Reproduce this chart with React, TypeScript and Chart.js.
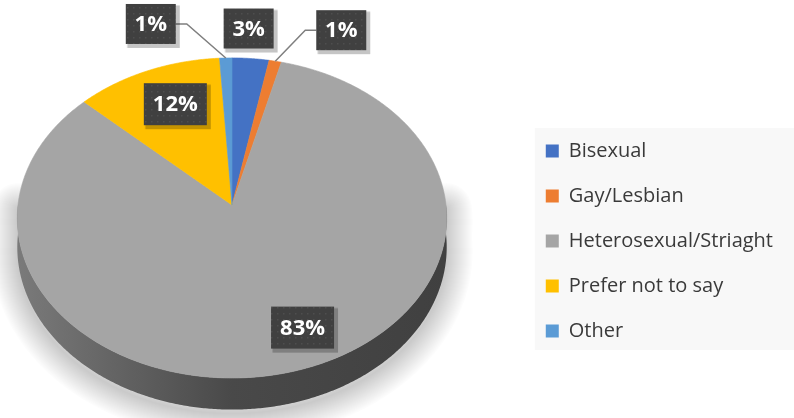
import React, { useEffect, useRef } from 'react';
import { Chart, registerables } from 'chart.js';

Chart.register(...registerables);

const categories = ['Bisexual', 'Gay/Lesbian', 'Heterosexual/Striaght', 'Prefer not to say', 'Other'];
const values = [3, 1, 83, 12, 1];
const valueLabels = ['3%', '1%', '83%', '12%', '1%'];
const colors = ['#4472C4', '#ED7D31', '#A5A5A5', '#FFC000', '#5B9BD5'];

// 3D projection geometry (style/layout, not data)
const PIE = { cx: 232, cy: 205, rx: 214, ry: 159, k: 0.081, depth: 29 };
const LABEL_PLACE = [
  { t: 1, dx: -2, dy: -30, leader: false },
  { t: 1, dx: 66, dy: -31, leader: true },
  { t: 0.75, dx: 23, dy: 1, leader: false },
  { t: 0.7, dx: 4, dy: -5, leader: false },
  { t: 1, dx: -75, dy: -34, leader: true },
];

function proj(a: number, t: number, down = 0): [number, number] {
  const x = t * Math.cos(a);
  const z = t * Math.sin(a);
  const f = 1 / (1 - PIE.k * z);
  return [PIE.cx + PIE.rx * x * f, PIE.cy + (PIE.ry * z + down) * f];
}

function shade(hex: string, f: number): string {
  const n = parseInt(hex.slice(1), 16);
  const r = Math.round(((n >> 16) & 255) * f);
  const g = Math.round(((n >> 8) & 255) * f);
  const b = Math.round((n & 255) * f);
  return `rgb(${r},${g},${b})`;
}

function arcPoints(s: number, e: number, t: number, down = 0): [number, number][] {
  const n = Math.max(2, Math.ceil((e - s) / (Math.PI / 360)));
  const pts: [number, number][] = [];
  for (let i = 0; i <= n; i++) pts.push(proj(s + ((e - s) * i) / n, t, down));
  return pts;
}

let dotPattern: CanvasPattern | null = null;
function getPattern(ctx: CanvasRenderingContext2D) {
  if (dotPattern) return dotPattern;
  const c = document.createElement('canvas');
  c.width = 6; c.height = 6;
  const p = c.getContext('2d')!;
  p.fillStyle = '#404040';
  p.fillRect(0, 0, 6, 6);
  p.fillStyle = '#4e4e4e';
  p.fillRect(1, 1, 1.5, 1.5);
  dotPattern = ctx.createPattern(c, 'repeat');
  return dotPattern;
}

function lowerSilhouette(ctx: CanvasRenderingContext2D, dy: number) {
  const D = PIE.depth;
  ctx.beginPath();
  const bottomPts = arcPoints(0, Math.PI, 1, D);
  const topPts = arcPoints(0, Math.PI, 1, 0).reverse();
  bottomPts.forEach((p, i) => (i ? ctx.lineTo(p[0], p[1] + dy) : ctx.moveTo(p[0], p[1] + dy)));
  topPts.forEach((p) => ctx.lineTo(p[0], p[1] + dy));
  ctx.closePath();
}

const pie3dPlugin = {
  id: 'pie3d',
  beforeDraw(chart: any) {
    const ctx: CanvasRenderingContext2D = chart.ctx;
    const hb = chart.legend && chart.legend.legendHitBoxes;
    if (hb && hb.length) {
      const first = hb[0];
      const last = hb[hb.length - 1];
      const left = first.left - 11;
      const top = first.top - 13;
      const bottom = last.top + last.height + 9;
      ctx.save();
      ctx.fillStyle = '#f8f8f8';
      ctx.fillRect(left, top, chart.width - left, bottom - top);
      ctx.restore();
    }
  },
  beforeDatasetsDraw(chart: any) {
    const ctx: CanvasRenderingContext2D = chart.ctx;
    const meta = chart.getDatasetMeta(0);
    const D = PIE.depth;
    ctx.save();
    // soft glow around the base: layered strokes
    ctx.lineJoin = 'round';
    ctx.strokeStyle = 'rgba(0,0,0,0.011)';
    for (let w = 52; w >= 2; w -= 2) {
      ctx.lineWidth = w;
      lowerSilhouette(ctx, 4);
      ctx.stroke();
    }

    // side walls
    meta.data.forEach((arc: any, i: number) => {
      const s = Math.max(arc.startAngle, 0);
      const e = Math.min(arc.endAngle, Math.PI);
      if (e <= s) return;
      const top = arcPoints(s, e, 1, 0);
      const bot = arcPoints(s, e, 1, D).reverse();
      ctx.beginPath();
      top.forEach((p, j) => (j ? ctx.lineTo(p[0], p[1]) : ctx.moveTo(p[0], p[1])));
      bot.forEach((p) => ctx.lineTo(p[0], p[1]));
      ctx.closePath();
      const g = ctx.createLinearGradient(PIE.cx - PIE.rx, 0, PIE.cx + PIE.rx, 0);
      g.addColorStop(0, shade(colors[i], 0.74));
      g.addColorStop(0.5, shade(colors[i], 0.44));
      g.addColorStop(1, shade(colors[i], 0.39));
      ctx.fillStyle = g;
      ctx.fill();
    });

    // top faces
    meta.data.forEach((arc: any, i: number) => {
      const pts = arcPoints(arc.startAngle, arc.endAngle, 1, 0);
      const c = proj(0, 0);
      ctx.beginPath();
      ctx.moveTo(c[0], c[1]);
      pts.forEach((p) => ctx.lineTo(p[0], p[1]));
      ctx.closePath();
      ctx.fillStyle = colors[i];
      ctx.fill();
      ctx.strokeStyle = colors[i];
      ctx.lineWidth = 0.6;
      ctx.stroke();
    });
    ctx.restore();
    return false;
  },
  afterDraw(chart: any) {
    const ctx: CanvasRenderingContext2D = chart.ctx;
    const meta = chart.getDatasetMeta(0);
    ctx.save();
    ctx.font = 'bold 22px "Open Sans"';
    meta.data.forEach((arc: any, i: number) => {
      const pl = LABEL_PLACE[i];
      const mid = (arc.startAngle + arc.endAngle) / 2;
      const anchor = proj(mid, pl.t);
      const bx = anchor[0] + pl.dx;
      const by = anchor[1] + pl.dy;
      const text = valueLabels[i];
      const tw = ctx.measureText(text).width;
      const w = Math.round(tw + 18);
      const h = text.length > 2 ? 42 : 40;
      const left = bx - w / 2;
      const top = by - h / 2;
      if (pl.leader) {
        ctx.beginPath();
        ctx.strokeStyle = '#7f7f7f';
        ctx.lineWidth = 1.5;
        ctx.moveTo(anchor[0], anchor[1]);
        if (pl.dx > 0) {
          ctx.lineTo(left - 11, by);
          ctx.lineTo(left, by);
        } else {
          ctx.lineTo(left + w + 11, by);
          ctx.lineTo(left + w, by);
        }
        ctx.stroke();
      }
      // drop shadow of the box
      ctx.fillStyle = 'rgba(0,0,0,0.12)';
      ctx.fillRect(left + 1, top + 1, w + 3, h + 3);
      ctx.fillStyle = 'rgba(0,0,0,0.12)';
      ctx.fillRect(left + 2, top + 2, w + 2, h + 2);
      ctx.fillStyle = getPattern(ctx) || '#404040';
      ctx.fillRect(left, top, w, h);
      ctx.fillStyle = '#ffffff';
      ctx.textAlign = 'center';
      ctx.textBaseline = 'middle';
      ctx.fillText(text, bx, by + 1);
    });
    ctx.restore();
  },
};

export default function App() {
  const canvasRef = useRef<HTMLCanvasElement | null>(null);
  useEffect(() => {
    if (!canvasRef.current) return;
    const chart = new Chart(canvasRef.current, {
      type: 'pie',
      data: {
        labels: categories,
        datasets: [{ data: values, backgroundColor: colors, borderWidth: 0 }],
      },
      options: {
        animation: false,
        responsive: true,
        maintainAspectRatio: false,
        events: [],
        layout: { padding: { top: 64, right: 11 } },
        plugins: {
          tooltip: { enabled: false },
          legend: {
            position: 'right',
            labels: {
              boxWidth: 13,
              boxHeight: 13,
              padding: 25,
              color: '#3a3a3a',
              font: { family: '"Open Sans"', size: 20 },
            },
          },
        },
      },
      plugins: [pie3dPlugin],
    } as any);
    return () => chart.destroy();
  }, []);
  return (
    <div style={{ position: 'absolute', left: 0, top: 0, width: 794, height: 418, background: '#ffffff' }}>
      <canvas ref={canvasRef} />
    </div>
  );
}
